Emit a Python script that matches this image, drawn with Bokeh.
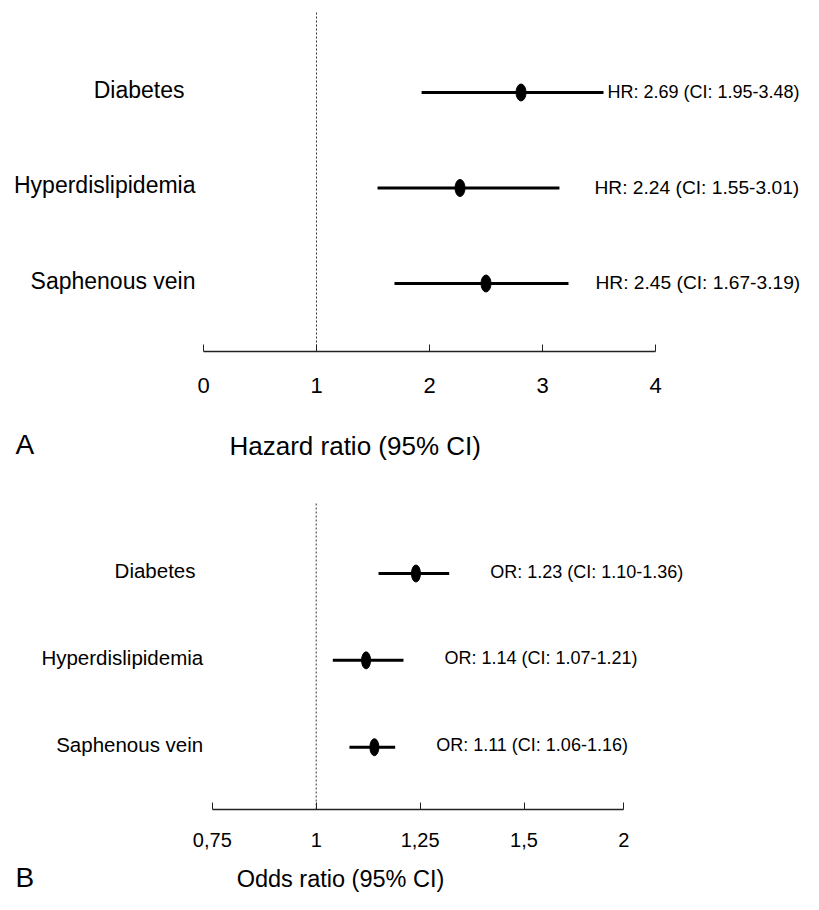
from bokeh.plotting import figure
from bokeh.models import Range1d, LinearAxis, FixedTicker
from bokeh.core.properties import value
from bokeh.embed import file_html
from bokeh.resources import INLINE

# ---------------- data ----------------
factors = ["Diabetes", "Hyperdislipidemia", "Saphenous vein"]
rows = [0, 1, 2]

hr_point = [2.81, 2.27, 2.50]
hr_low = [1.93, 1.54, 1.69]
hr_high = [3.54, 3.15, 3.23]
hr_text = ["HR: 2.69 (CI: 1.95-3.48)", "HR: 2.24 (CI: 1.55-3.01)", "HR: 2.45 (CI: 1.67-3.19)"]

or_point = [1.24, 1.12, 1.14]
or_low = [1.15, 1.04, 1.08]
or_high = [1.32, 1.21, 1.19]
or_text = ["OR: 1.23 (CI: 1.10-1.36)", "OR: 1.14 (CI: 1.07-1.21)", "OR: 1.11 (CI: 1.06-1.16)"]

hr_ticks = [0, 1, 2, 3, 4]
hr_tick_labels = ["0", "1", "2", "3", "4"]
or_ticks = [0.75, 1, 1.25, 1.5, 1.74]
or_tick_labels = ["0,75", "1", "1,25", "1,5", "2"]
null_value = 1

# ---------------- layout (picture pixels) ----------------
W, H = 803, 894
OFF = 0
A_X0, A_PPU = 203.0, 113.0
B_X1, B_PPU = 315.7, 415.6
A_ROW0, A_STEP = 92.0, 95.5
B_ROW0, B_STEP = 573.0, 86.85
A_AXIS, B_AXIS = 351.0, 809.0
A_DASH_TOP, B_DASH_TOP = 12.0, 503.0
FONT = "Liberation Sans"


def hx(px):
    return (px - A_X0) / A_PPU


def ox(px):
    return 1 + (px - B_X1) / B_PPU


def hy(px):
    return (px - A_ROW0) / A_STEP


def oy(px):
    return (px - B_ROW0) / B_STEP


p = figure(width=W, height=H,
           x_range=Range1d(hx(OFF), hx(OFF + W)),
           y_range=Range1d(start=hy(OFF + H), end=hy(OFF)),
           x_axis_type=None, y_axis_type=None,
           output_backend="svg", toolbar_location=None,
           min_border=0, outline_line_color=None)
p.extra_x_ranges = {"or": Range1d(ox(OFF), ox(OFF + W))}
p.extra_y_ranges = {"or": Range1d(start=oy(OFF + H), end=oy(OFF))}


def style_axis(ax, size, standoff):
    ax.axis_line_color = "#222222"
    ax.axis_line_width = 1.3
    ax.major_tick_line_color = "#222222"
    ax.major_tick_line_width = 1
    ax.major_tick_in = 7
    ax.major_tick_out = 0
    ax.minor_tick_line_color = None
    ax.major_label_text_font = FONT
    ax.major_label_text_font_size = size
    ax.major_label_text_color = "black"
    ax.major_label_standoff = standoff


# ---------- panel A ----------
axA = LinearAxis(fixed_location=hy(A_AXIS), bounds=(hr_ticks[0], hr_ticks[-1]),
                 ticker=FixedTicker(ticks=hr_ticks),
                 major_label_overrides=dict(zip(hr_ticks, hr_tick_labels)))
style_axis(axA, "22px", 26)
p.add_layout(axA, "below")

p.segment(x0=[null_value], y0=[hy(A_DASH_TOP)], x1=[null_value], y1=[hy(A_AXIS)],
          line_color="#333333", line_width=1, line_dash="2 2")
p.segment(x0=hr_low, y0=rows, x1=hr_high, y1=rows, line_color="black", line_width=3)
p.ellipse(x=hr_point, y=rows, width=10, height=17, width_units="screen",
          height_units="screen", fill_color="black", line_color="black")

a_label_right = [hx(184), hx(195), hx(195)]
p.text(x=a_label_right, y=rows, text=factors, text_align="right", text_baseline="middle",
       text_font=value(FONT), text_font_size="23px", text_color="black", y_offset=-3)
p.text(x=hr_high, y=rows, text=hr_text, x_offset=[4, 35, 27], y_offset=-1,
       text_align="left", text_baseline="middle",
       text_font=value(FONT), text_font_size=["18px", "19.2px", "19.2px"], text_color="black")
p.text(x=[hx(354.7)], y=[hy(445)], text=["Hazard ratio (95% CI)"], text_align="center",
       text_baseline="middle", text_font=value(FONT), text_font_size="26px", text_color="black")
p.text(x=[hx(15)], y=[hy(444)], text=["A"], text_align="left",
       text_baseline="middle", text_font=value(FONT), text_font_size="28px", text_color="black")

# ---------- panel B ----------
axB = LinearAxis(x_range_name="or", y_range_name="or", fixed_location=oy(B_AXIS),
                 bounds=(or_ticks[0], or_ticks[-1]),
                 ticker=FixedTicker(ticks=or_ticks),
                 major_label_overrides=dict(zip(or_ticks, or_tick_labels)))
style_axis(axB, "20px", 23)
p.add_layout(axB, "below")

p.segment(x0=[null_value], y0=[oy(B_DASH_TOP)], x1=[null_value], y1=[oy(B_AXIS)],
          x_range_name="or", y_range_name="or",
          line_color="#333333", line_width=1, line_dash="2 2")
p.segment(x0=or_low, y0=rows, x1=or_high, y1=rows, x_range_name="or", y_range_name="or",
          line_color="black", line_width=3)
p.ellipse(x=or_point, y=rows, width=9, height=17, width_units="screen",
          height_units="screen", fill_color="black", line_color="black",
          x_range_name="or", y_range_name="or")

b_label_right = [ox(195), ox(202.7), ox(202.7)]
p.text(x=b_label_right, y=rows, text=factors, text_align="right", text_baseline="middle",
       x_range_name="or", y_range_name="or",
       text_font=value(FONT), text_font_size="20.5px", text_color="black", y_offset=-3)
p.text(x=or_high, y=rows, text=or_text, x_offset=41, y_offset=-2,
       x_range_name="or", y_range_name="or",
       text_align="left", text_baseline="middle",
       text_font=value(FONT), text_font_size="18px", text_color="black")
p.text(x=[ox(340)], y=[oy(878)], text=["Odds ratio (95% CI)"], text_align="center",
       x_range_name="or", y_range_name="or",
       text_baseline="middle", text_font=value(FONT), text_font_size="23.5px", text_color="black")
p.text(x=[ox(15)], y=[oy(877)], text=["B"], text_align="left",
       x_range_name="or", y_range_name="or",
       text_baseline="middle", text_font=value(FONT), text_font_size="28px", text_color="black")

open("out.html", "w").write(file_html(p, INLINE))
